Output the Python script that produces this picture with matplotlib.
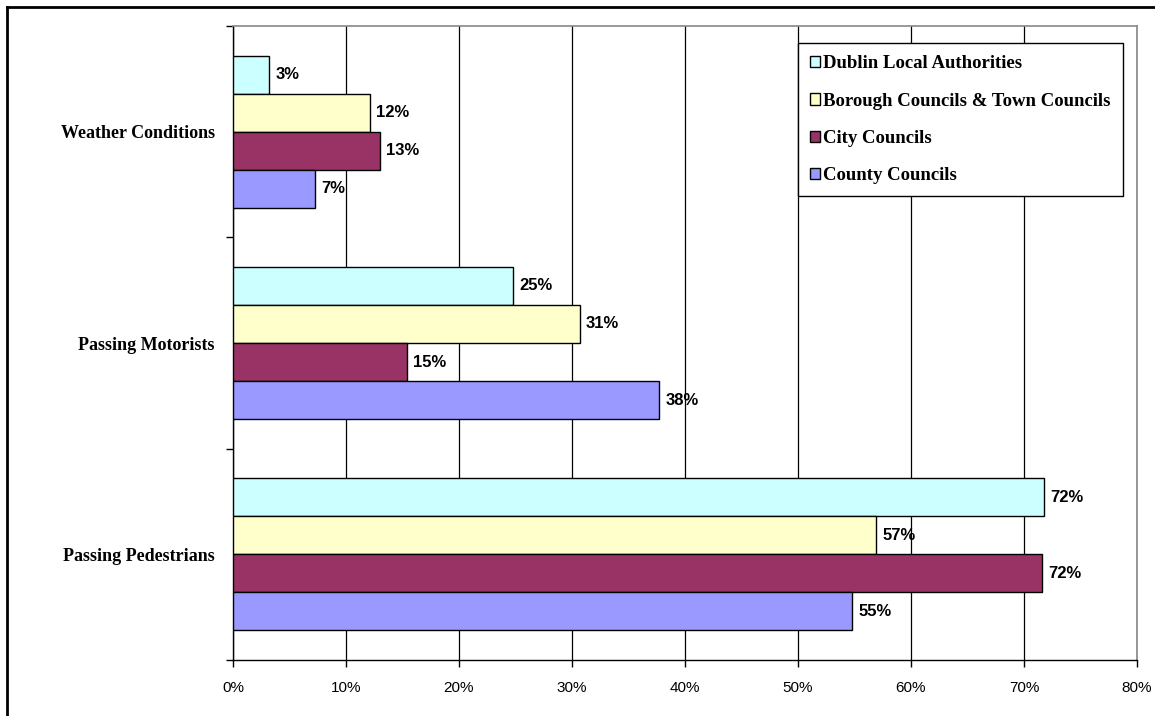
import matplotlib
matplotlib.use("Agg")
import matplotlib.pyplot as plt
from matplotlib.lines import Line2D
from matplotlib.ticker import FixedLocator, PercentFormatter

categories = ["Weather Conditions", "Passing Motorists", "Passing Pedestrians"]
series_names = ["Dublin Local Authorities", "Borough Councils & Town Councils",
                "City Councils", "County Councils"]
dublin = [3.2, 24.8, 71.8]
borough = [12.1, 30.7, 56.9]
city = [13.0, 15.4, 71.6]
county = [7.3, 37.7, 54.8]
colors = ["#CCFFFF", "#FFFFCC", "#993366", "#9999FF"]
xticks = [0, 10, 20, 30, 40, 50, 60, 70, 80]

series = [dublin, borough, city, county]

fig = plt.figure(figsize=(11.55, 7.16), dpi=100)
ax = fig.add_axes([233/1155, 1-660/716, 904/1155, 634/716])

h = 38/211
for k, (vals, name, col) in enumerate(zip(series, series_names, colors)):
    ys = [i + (k - 1.5) * h for i in range(len(categories))]
    ax.barh(ys, vals, height=h, color=col, edgecolor="black", linewidth=1.0,
            label=name, zorder=3)
    for y, v in zip(ys, vals):
        ax.text(v + 0.55, y, f"{round(v):d}%", va="center", ha="left",
                fontsize=12, fontweight="bold", family="Liberation Sans", zorder=4)

ax.set_xlim(0, 80)
ax.set_ylim(len(categories) - 0.5, -0.5)
ax.xaxis.set_major_locator(FixedLocator(xticks))
ax.xaxis.set_major_formatter(PercentFormatter(decimals=0))
ax.set_yticks(range(len(categories)))
ax.set_yticklabels(categories, family="Liberation Serif", fontweight="bold", fontsize=13)
ax.yaxis.set_minor_locator(FixedLocator([-0.5, 0.5, 1.5, 2.5]))
ax.tick_params(axis="y", which="major", length=0, pad=13)
ax.tick_params(axis="y", which="minor", length=5, direction="out", width=1, color="black")
ax.tick_params(axis="x", which="major", length=5, direction="out", width=1, pad=10,
               labelsize=11)
for lab in ax.get_xticklabels():
    lab.set_family("Liberation Sans")

ax.grid(axis="x", color="black", linewidth=0.9, zorder=0)
ax.set_axisbelow(True)
for s in ["left", "bottom"]:
    ax.spines[s].set_color("black")
    ax.spines[s].set_linewidth(1.0)
for s in ["top", "right"]:
    ax.spines[s].set_color("#888888")
    ax.spines[s].set_linewidth(1.2)

leg = ax.legend(loc="upper right", bbox_to_anchor=(0.9845, 0.973),
                prop={"family": "Liberation Serif", "weight": "bold", "size": 13.5},
                frameon=True, fancybox=False, edgecolor="black", framealpha=1,
                handlelength=0.55, handleheight=0.55, handletextpad=0.15,
                labelspacing=1.08, borderpad=0.65, borderaxespad=0)
leg.get_frame().set_linewidth(1.0)

# outer chart border
fig.add_artist(Line2D([7/1155, 7/1155], [0, 1-7/716], transform=fig.transFigure,
                      color="black", linewidth=2))
fig.add_artist(Line2D([7/1155, 1], [1-7/716, 1-7/716], transform=fig.transFigure,
                      color="black", linewidth=2))

fig.savefig("out.png", dpi=100)
